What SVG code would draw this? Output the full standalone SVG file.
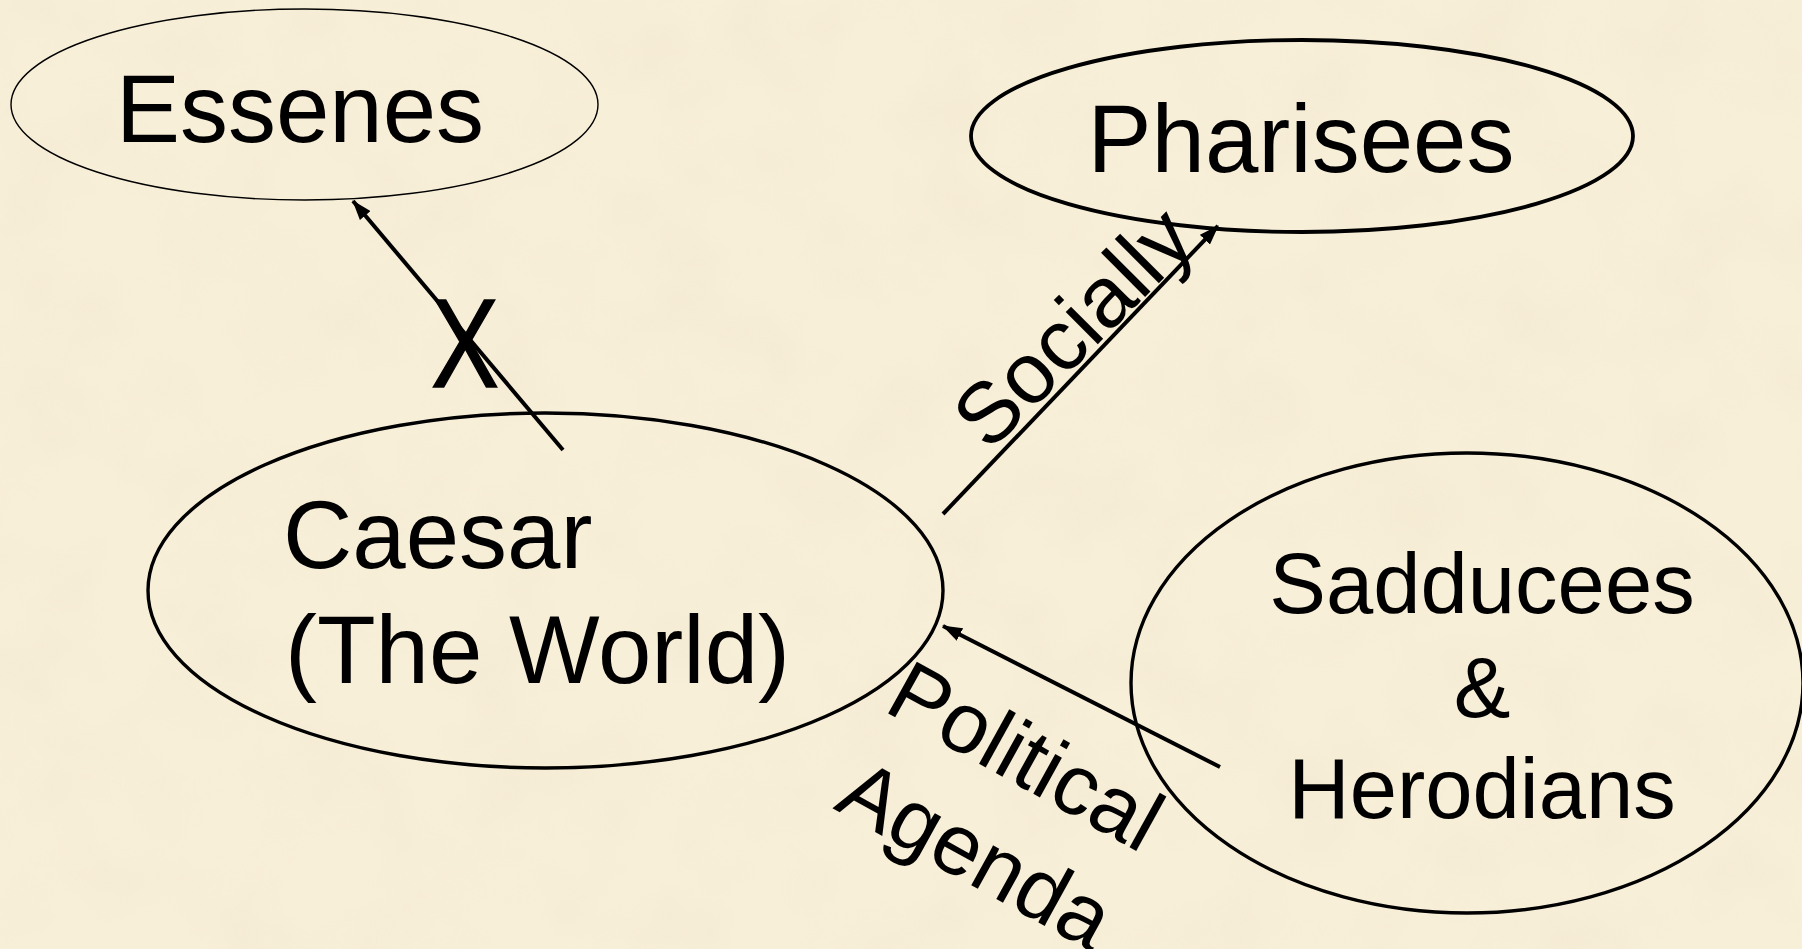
<svg xmlns="http://www.w3.org/2000/svg" width="1802" height="949" viewBox="0 0 1802 949">
<style>
.node{fill:none;stroke:#000;stroke-width:3.4}
.thin{stroke-width:1.4}
.lbl{font-family:"Liberation Sans",Arial,sans-serif;fill:#000}
.conn{stroke:#000;stroke-width:4;fill:none}
</style>
<defs>
<filter id="paper" x="0" y="0" width="100%" height="100%">
<feTurbulence type="fractalNoise" baseFrequency="0.011" numOctaves="3" seed="7"/>
<feColorMatrix type="matrix" values="0 0 0 0 0.80  0 0 0 0 0.70  0 0 0 0 0.50  0.8 0 0 0 -0.32"/>
</filter>
<marker id="arr" viewBox="0 0 20 14" markerWidth="20" markerHeight="14" refX="19" refY="7" orient="auto" markerUnits="userSpaceOnUse">
<path d="M0,0 L20,7 L0,14 z" fill="#000"/>
</marker>
</defs>
<rect width="1802" height="949" fill="#F8EFD9"/>
<rect width="1802" height="949" filter="url(#paper)" opacity="0.4"/>

<g id="essenes">
<ellipse class="node thin" cx="304.5" cy="104.5" rx="293.5" ry="95.5"/>
<text class="lbl" x="300" y="142" font-size="96" text-anchor="middle">Essenes</text>
</g>

<g id="pharisees">
<ellipse class="node" style="stroke-width:3.8" cx="1302" cy="136" rx="331" ry="96"/>
<text class="lbl" x="1301" y="172" font-size="96" text-anchor="middle">Pharisees</text>
</g>

<g id="caesar">
<ellipse class="node" cx="545.5" cy="590.5" rx="397.5" ry="177.5"/>
<text class="lbl" font-size="96"><tspan x="283" y="568">Caesar</tspan><tspan x="285" y="683">(The World)</tspan></text>
</g>

<g id="sadducees">
<ellipse class="node" cx="1467" cy="683" rx="336" ry="230"/>
<text class="lbl" font-size="85" text-anchor="middle"><tspan x="1482" y="613">Sadducees</tspan><tspan x="1482" y="717">&amp;</tspan><tspan x="1482" y="818">Herodians</tspan></text>
</g>

<g id="connectors">
<line class="conn" x1="563" y1="450" x2="353" y2="201" marker-end="url(#arr)"/>
<line class="conn" x1="943" y1="514" x2="1218" y2="226" marker-end="url(#arr)"/>
<line class="conn" x1="1220" y1="767" x2="943" y2="626" marker-end="url(#arr)"/>
<text class="lbl" x="465" y="387" font-size="126" text-anchor="middle" textLength="68" lengthAdjust="spacingAndGlyphs" stroke="#000" stroke-width="1.5">X</text>
<text class="lbl" font-size="86" transform="translate(989,453) rotate(-45)">Socially</text>
<text class="lbl" font-size="86" transform="translate(882,710) rotate(29)"><tspan x="0" y="0">Political</tspan><tspan x="4" y="110">Agenda</tspan></text>
</g>
</svg>
